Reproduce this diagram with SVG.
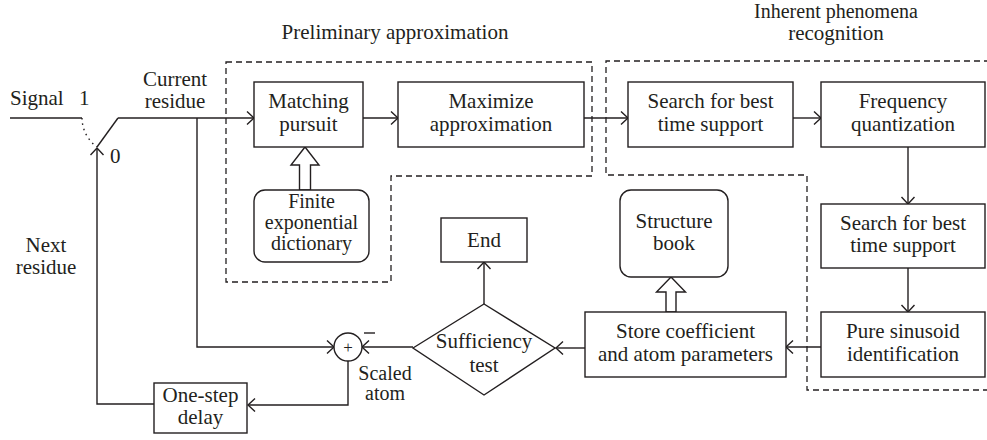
<svg xmlns="http://www.w3.org/2000/svg" width="987" height="440" viewBox="0 0 987 440" font-family="Liberation Serif, serif">
  <style>
    text { font-size: 21px; fill: #231f20; }
    .c { text-anchor: middle; }
    .sm { font-size: 20px; }
    .box { fill: #ffffff; stroke: #231f20; stroke-width: 1.4; }
    .wire { fill: none; stroke: #231f20; stroke-width: 1.4; }
    .arr { marker-end: url(#head); }
    .dash { fill: none; stroke: #231f20; stroke-width: 1.3; stroke-dasharray: 6 4; }
    .hollow { fill: #ffffff; stroke: #231f20; stroke-width: 1.4; stroke-linejoin: miter; }
  </style>
  <defs>
    <marker id="head" markerUnits="userSpaceOnUse" markerWidth="12" markerHeight="16" refX="8" refY="7" orient="auto">
      <path d="M1,0.5 L8,7 L1,13.5" fill="none" stroke="#231f20" stroke-width="1.4"/>
    </marker>
  </defs>

  <rect width="987" height="440" fill="#ffffff"/>

  <!-- dashed stage outlines -->
  <g id="regions">
    <path class="dash" d="M226,62 H592 V176 H391 V282 H226 Z"/>
    <path class="dash" d="M990,61 H606 V175 H807 V390 H990"/>
    <text class="c" x="395" y="39">Preliminary approximation</text>
    <text class="c sm" x="836" y="18">Inherent phenomena</text>
    <text class="c" x="836" y="40">recognition</text>
  </g>

  <!-- connectors -->
  <g id="connectors">
    <!-- input and switch -->
    <path class="wire" d="M10,118 H82"/>
    <path class="wire" d="M82,118 A36,36 0 0 0 97,147" stroke-dasharray="1.5 4"/>
    <path class="wire" d="M97,147 L118,118"/>
    <path class="wire arr" d="M118,118 H254"/>
    <path class="wire arr" d="M155,404 H97 V148"/>
    <!-- residue to summer -->
    <path class="wire arr" d="M197,118 V347 H334"/>
    <path class="wire arr" d="M413,347 H362"/>
    <path class="wire arr" d="M348,361 V405 H248"/>
    <line x1="364" y1="333" x2="375" y2="333" stroke="#231f20" stroke-width="1.4"/>
    <!-- top chain -->
    <path class="wire arr" d="M363,118 H398"/>
    <path class="wire arr" d="M584,118 H628"/>
    <path class="wire arr" d="M793,118 H821"/>
    <path class="wire arr" d="M908,147 V204"/>
    <path class="wire arr" d="M908,268 V312"/>
    <path class="wire arr" d="M821,347 H786"/>
    <path class="wire arr" d="M585,348 H556"/>
    <path class="wire arr" d="M484,304 V262"/>
    <!-- hollow block arrows -->
    <polygon class="hollow" points="299.5,190 299.5,165 291,165 305,147 319,165 310.5,165 310.5,190"/>
    <polygon class="hollow" points="666,312 666,292 656.5,292 671,277 685.5,292 676,292 676,312"/>
  </g>

  <g id="labels">
    <text x="10" y="105">Signal</text>
    <text x="79" y="105">1</text>
    <text x="110" y="163">0</text>
    <text class="c" x="175" y="86">Current</text>
    <text class="c" x="175" y="108">residue</text>
    <text class="c" x="46" y="252">Next</text>
    <text class="c" x="46" y="274">residue</text>
    <text class="c sm" x="385" y="380">Scaled</text>
    <text class="c sm" x="385" y="400">atom</text>
  </g>

  <g id="matching">
    <rect class="box" x="254" y="82" width="109" height="65"/>
    <text class="c" x="308.5" y="108">Matching</text>
    <text class="c" x="308.5" y="131">pursuit</text>
  </g>
  <g id="dictionary">
    <rect class="box" x="254" y="190" width="115" height="72" rx="11"/>
    <text class="c sm" x="311.5" y="208">Finite</text>
    <text class="c sm" x="311.5" y="229">exponential</text>
    <text class="c sm" x="311.5" y="250">dictionary</text>
  </g>
  <g id="maximize">
    <rect class="box" x="398" y="82" width="186" height="65"/>
    <text class="c" x="491" y="108">Maximize</text>
    <text class="c" x="491" y="131">approximation</text>
  </g>
  <g id="search1">
    <rect class="box" x="628" y="82" width="165" height="65"/>
    <text class="c" x="710.5" y="108">Search for best</text>
    <text class="c" x="710.5" y="131">time support</text>
  </g>
  <g id="frequency">
    <rect class="box" x="821" y="82" width="164" height="65"/>
    <text class="c" x="903" y="108">Frequency</text>
    <text class="c" x="903" y="131">quantization</text>
  </g>
  <g id="search2">
    <rect class="box" x="821" y="204" width="164" height="64"/>
    <text class="c" x="903" y="230">Search for best</text>
    <text class="c" x="903" y="252">time support</text>
  </g>
  <g id="sinusoid">
    <rect class="box" x="821" y="312" width="164" height="65"/>
    <text class="c" x="903" y="338">Pure sinusoid</text>
    <text class="c" x="903" y="361">identification</text>
  </g>
  <g id="store">
    <rect class="box" x="585" y="312" width="201" height="65"/>
    <text class="c" x="685.5" y="338">Store coefficient</text>
    <text class="c" x="685.5" y="361">and atom parameters</text>
  </g>
  <g id="structure">
    <rect class="box" x="620" y="190" width="108" height="87" rx="11"/>
    <text class="c" x="674" y="228">Structure</text>
    <text class="c" x="674" y="250">book</text>
  </g>
  <g id="end">
    <rect class="box" x="441" y="218" width="86" height="44"/>
    <text class="c" x="484" y="247">End</text>
  </g>
  <g id="sufficiency">
    <polygon class="box" points="413,348 484,304 555,348 484,395"/>
    <text class="c" x="484" y="348">Sufficiency</text>
    <text class="c" x="484" y="372">test</text>
  </g>
  <g id="summer">
    <circle class="box" cx="348" cy="347" r="14"/>
    <text class="c" x="348" y="353" style="font-size:17px">+</text>
  </g>
  <g id="delay">
    <rect class="box" x="154" y="383" width="93" height="50"/>
    <text class="c" x="200.5" y="402">One-step</text>
    <text class="c" x="200.5" y="424">delay</text>
  </g>
</svg>
